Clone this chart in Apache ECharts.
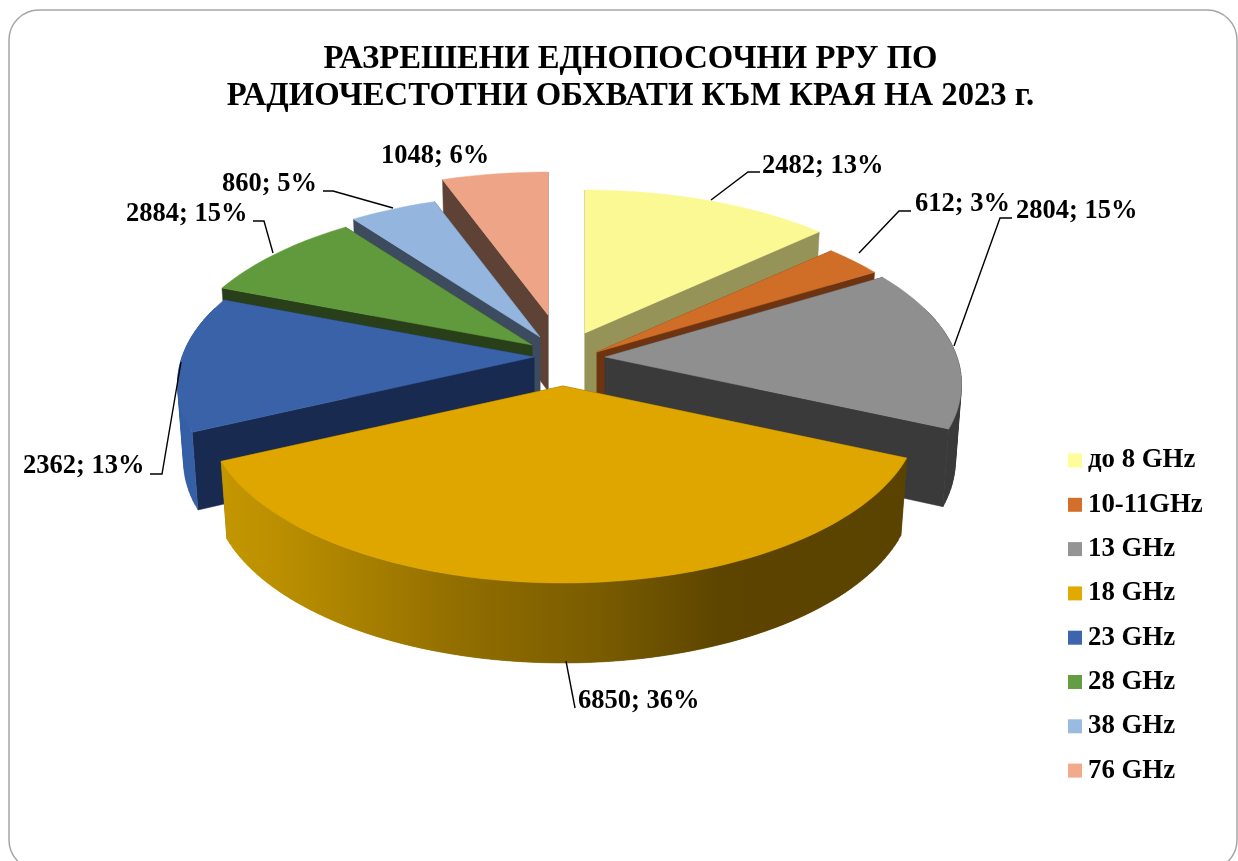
<!DOCTYPE html>
<html>
<head>
<meta charset="utf-8">
<style>html,body{margin:0;padding:0;background:#fff}#c{width:1238px;height:861px}</style>
<script src="https://cdn.jsdelivr.net/npm/echarts@6/dist/echarts.min.js"></script>
</head>
<body>
<div id="c"></div>
<script>
// ---- data ----
const categories = ['до 8 GHz','10-11GHz','13 GHz','18 GHz','23 GHz','28 GHz','38 GHz','76 GHz'];
const values = [2482,612,2804,6850,2362,2884,860,1048];
const percentLabels = [13,3,15,36,13,15,5,6];
// share of the circle each slice visibly occupies, in percent
const sliceShares = [13.2,3.1,15.4,36.4,12.9,8.9,4.6,5.6];
const titleLines = ['РАЗРЕШЕНИ ЕДНОПОСОЧНИ РРУ ПО','РАДИОЧЕСТОТНИ ОБХВАТИ КЪМ КРАЯ НА 2023 г.'];

// ---- styling ----
const legendColors = ['#fdfd9a','#d26f2a','#949494','#e2a900','#3c65ae','#659d42','#9abbe0','#f2a98c'];
const topColors = ['#fbf993','#d06e27','#8f8f8f','#dfa600','#3a62a9','#619a3d','#94b6de','#eea587'];
const cutColors = ['#969358','#6e3411','#3a3a3a','#5c4400','#182a4f','#283f19','#3c4b5d','#5f4236'];
const wallColors = ['#969358','#6e3411','#3a3a3a',null,'#3560a6','#283f19','#3c4b5d','#5f4236'];
const FONT = '"Liberation Serif","Times New Roman",serif';

// ---- layout of the tilted disc ----
const CX = 568, CY = 358, RX = 352, RY = 165.7, PERSP = 0.159, INSET = 0.983;
// how far each slice is pulled out of the disc, in pixels
const pullX = [17,29,37,-5,-34,-36,-28,-20];
const pullY = [-25,-6,-1,28,-1,-13,-21,-43];
// label anchor and leader line for each slice
const labelPos = [[762,166],[915,204],[1016,211],[578,701],[23,466],[126,214],[222,184],[381,156]];
const leaders = [
  [[711,200],[748,172],[760,172]],
  [[859,253],[899,211],[911,211]],
  [[954,346],[1000,218],[1012,218]],
  [[566,661],[575,708]],
  [[150,474],[162,474],[181,362]],
  [[253,221],[264,221],[273,253]],
  [[323,191],[333,191],[393,208]],
  []
];
// only the part of the rim between these angles faces the viewer
const WALL_FROM = 72, WALL_TO = 288;

const total = sliceShares.reduce((a,b)=>a+b,0);
const startAngles = [];
sliceShares.reduce((acc,s,i)=>{startAngles[i]=acc;return acc+s/total*360;},0);
const rad = d => d*Math.PI/180;

function rimOffset(deg){
  const c = Math.cos(rad(deg)), s = Math.sin(rad(deg));
  const p = 1/(1+PERSP*c);
  return [RX*s*p, -RY*c*p];
}
function depthAt(deg){ return 76 - 4*Math.cos(rad(deg)); }

function rimArc(ax, ay, from, to){
  const top = [], bot = [];
  const steps = Math.max(4, Math.ceil((to-from)/1.5));
  for(let k=0;k<=steps;k++){
    const d = from + (to-from)*k/steps, o = rimOffset(d);
    top.push([ax+o[0], ay+o[1]]);
    bot.push([ax+o[0]*INSET, ay+o[1]+depthAt(d)]);
  }
  return {top, bot};
}

const goldWall = new echarts.graphic.LinearGradient(220,0,905,0,[
  {offset:0,color:'#c49700'},{offset:0.12,color:'#b68b00'},
  {offset:0.33,color:'#947000'},{offset:0.55,color:'#7a5c00'},
  {offset:0.73,color:'#5d4500'},{offset:1,color:'#5a4300'}
], true);

function sliceItem(i, share){
  const a0 = startAngles[i], a1 = a0 + share/total*360;
  const ax = CX + pullX[i], ay = CY + pullY[i];
  const whole = rimArc(ax, ay, a0, a1);
  const n = whole.top.length - 1;
  const ab = [ax, ay+depthAt(90)];
  const apex = [ax, ay];
  const poly = (points, fill, lw) => ({
    type:'polygon', silent:true, shape:{points},
    style:{fill, stroke:fill, lineWidth:lw || 0.5}
  });
  const children = [
    poly([apex, whole.top[0], whole.bot[0], ab], cutColors[i]),
    poly([apex, whole.top[n], whole.bot[n], ab], cutColors[i])
  ];
  const w0 = Math.max(a0, WALL_FROM), w1 = Math.min(a1, WALL_TO);
  if(w1 > w0){
    const arc = rimArc(ax, ay, w0, w1);
    const wallFill = wallColors[i] || goldWall;
    const last = arc.top.length - 1;
    // overlapping strips, so that no seam shows between neighbours
    for(let k=0;k<last;k++){
      const e = Math.min(k+2, last);
      children.push(poly([arc.top[k],arc.top[e],arc.bot[e],arc.bot[k]], wallFill, 0.3));
    }
  }
  children.push(poly([apex].concat(whole.top), topColors[i]));
  return {type:'group', silent:true, children};
}

function labelItem(i){
  const children = [];
  if(leaders[i].length){
    children.push({type:'polyline', silent:true, shape:{points:leaders[i]},
      style:{fill:null, stroke:'#000', lineWidth:1.4}});
  }
  children.push({type:'text', silent:true, x:labelPos[i][0], y:labelPos[i][1],
    style:{text:values[i]+'; '+percentLabels[i]+'%', font:'bold 26.5px '+FONT,
      fill:'#000', verticalAlign:'middle', align:'left'}});
  return {type:'group', silent:true, children};
}

// paint back to front
const paintOrder = [0,7,1,6,5,2,4,3];
const series = categories.map((name,i)=>({
  type:'custom', name, coordinateSystem:'none', silent:true,
  z: 2 + paintOrder.indexOf(i),
  itemStyle:{color:legendColors[i]},
  data:[sliceShares[i]],
  renderItem:(p,api)=>sliceItem(i, api.value(0))
}));
series.push({
  type:'custom', name:'labels', coordinateSystem:'none', silent:true, z:20,
  data: values.map((v,i)=>[i]),
  renderItem:(p,api)=>labelItem(api.value(0))
});

const chart = echarts.init(document.getElementById('c'), null, {renderer:'canvas'});
chart.setOption({
  animation:false,
  backgroundColor:'#fff',
  title:{
    text:titleLines.join('\n'), left:625.5, top:36, textAlign:'center',
    textStyle:{fontFamily:FONT, fontWeight:'bold', fontSize:32.7, lineHeight:37, color:'#000'}
  },
  legend:{
    data:categories, orient:'vertical', left:1068, top:447, padding:0, selectedMode:false,
    icon:'rect', itemWidth:14, itemHeight:14, itemGap:17.3, itemStyle:{borderWidth:0},
    textStyle:{fontFamily:FONT, fontWeight:'bold', fontSize:26.8, color:'#000', padding:[2,0,0,1]}
  },
  graphic:[{
    type:'rect', silent:true, z:-1,
    shape:{x:9,y:10,width:1228,height:860,r:30},
    style:{fill:'#fff', stroke:'#a6a6a6', lineWidth:1.5}
  }],
  series
});
</script>
</body>
</html>
